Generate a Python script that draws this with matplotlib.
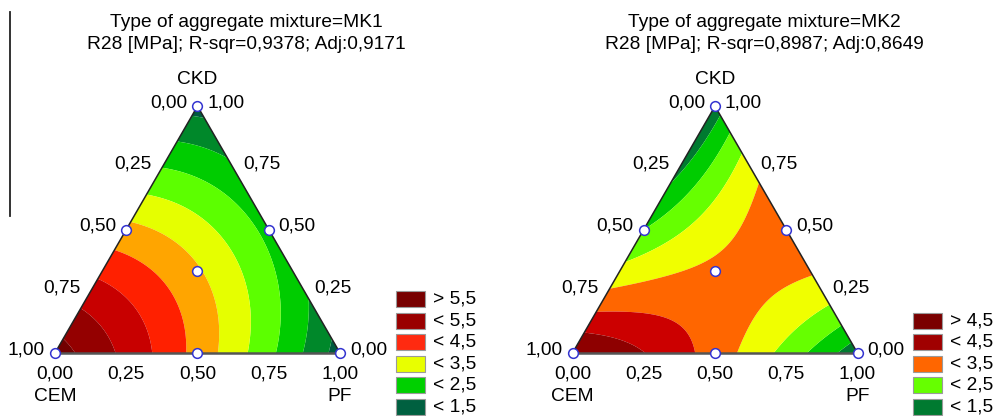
import numpy as np
import matplotlib
matplotlib.use('Agg')
import matplotlib.pyplot as plt
import matplotlib.tri as mtri
from matplotlib.patches import Rectangle
from matplotlib.lines import Line2D

plt.rcParams['font.family'] = ['Liberation Sans', 'DejaVu Sans']

# ---------------- data ----------------
components = ['CEM', 'PF', 'CKD']
tick_values = [0.0, 0.25, 0.5, 0.75, 1.0]
tick_labels = ['0,00', '0,25', '0,50', '0,75', '1,00']

titles_mk1 = ['Type of aggregate mixture=MK1', 'R28 [MPa]; R-sqr=0,9378; Adj:0,9171']
titles_mk2 = ['Type of aggregate mixture=MK2', 'R28 [MPa]; R-sqr=0,8987; Adj:0,8649']

# Scheffe special-cubic model coefficients (read from the contour map):
# b_CEM, b_PF, b_CKD, b_CEM*PF, b_CEM*CKD, b_PF*CKD, b_CEM*PF*CKD
coef_mk1 = [5.73, 1.27, 1.31, 1.30, 0.47, 4.20, 3.20]
coef_mk2 = [4.54, 1.15, 1.20, 1.71, -3.48, 8.50, 1.30]

levels_mk1 = [1.5, 2.0, 2.5, 3.0, 3.5, 4.0, 4.5, 5.0, 5.5]
colors_mk1 = ['#005a40', '#00882a', '#00cc00', '#5cff00', '#e5ff00',
              '#ffa500', '#ff2000', '#c80000', '#940000', '#720000']
legend_labels_mk1 = ['> 5,5', '< 5,5', '< 4,5', '< 3,5', '< 2,5', '< 1,5']
legend_colors_mk1 = ['#780000', '#9a0000', '#ff2a10', '#e8ff00', '#00d000', '#006040']

levels_mk2 = [1.5, 2.0, 2.5, 3.0, 3.5, 4.0, 4.5]
colors_mk2 = ['#007a30', '#00cc00', '#66ff00', '#f0ff00', '#ff6600',
              '#cc0000', '#8e0000', '#760000']
legend_labels_mk2 = ['> 4,5', '< 4,5', '< 3,5', '< 2,5', '< 1,5']
legend_colors_mk2 = ['#7a0000', '#a00000', '#ff6600', '#66ff00', '#007a30']

# design points (fractions)
design_cem = [1.0, 0.0, 0.0, 0.5, 0.5, 0.0, 1 / 3]
design_pf = [0.0, 1.0, 0.0, 0.5, 0.0, 0.5, 1 / 3]
design_ckd = [0.0, 0.0, 1.0, 0.0, 0.5, 0.5, 1 / 3]

# ---------------- helpers ----------------
H = np.sqrt(3) / 2


def to_xy(cem, pf, ckd):
    cem, pf, ckd = map(np.asarray, (cem, pf, ckd))
    return pf + ckd / 2.0, ckd * H


def model(c, x1, x2, x3):
    return (c[0] * x1 + c[1] * x2 + c[2] * x3 + c[3] * x1 * x2 + c[4] * x1 * x3
            + c[5] * x2 * x3 + c[6] * x1 * x2 * x3)


W, HT = 995, 416
S = 285.0  # pixels per unit
fig = plt.figure(figsize=(W / 100, HT / 100), dpi=100)

FS = 13.8


def panel(ox, titles, coef, levels, colors, leg_labels, leg_colors):
    oy = 353.0
    x0, x1, y0, y1 = -0.15, 1.25, -0.05, 0.95
    ax = fig.add_axes([(ox + x0 * S) / W, (HT - (oy - y0 * S)) / HT,
                       (x1 - x0) * S / W, (y1 - y0) * S / HT])
    ax.set_xlim(x0, x1)
    ax.set_ylim(y0, y1)
    ax.axis('off')

    # lattice
    n = 160
    pts = []
    for i in range(n + 1):
        for j in range(n + 1 - i):
            k = n - i - j
            pts.append((i / n, j / n, k / n))
    pts = np.array(pts)
    cem, pf, ckd = pts[:, 0], pts[:, 1], pts[:, 2]
    xs, ys = to_xy(cem, pf, ckd)
    z = model(coef, cem, pf, ckd)
    tri = mtri.Triangulation(xs, ys)
    ax.tricontourf(tri, z, levels=[-50] + list(levels) + [50], colors=colors,
                   antialiased=True)

    # outline
    vx, vy = to_xy([1, 0, 0], [0, 1, 0], [0, 0, 1])
    ax.plot([vx[0], vx[2], vx[1]], [vy[0], vy[2], vy[1]], color='#222222',
            lw=1.1, zorder=4, clip_on=False)
    ax.plot([vx[0], vx[1]], [vy[0], vy[1]], color='#555555', lw=1.8,
            zorder=4, clip_on=False)

    # design points
    dx, dy = to_xy(design_cem, design_pf, design_ckd)
    ax.plot(dx, dy, 'o', ms=7, mfc='white', mec='#3434d0', mew=1.1,
            clip_on=False, zorder=6, linestyle='none')

    # tick labels
    for v, lab in zip(tick_values, tick_labels):
        # left edge: CEM fraction
        ex, ey = to_xy(v, 0.0, 1 - v)
        ax.text(ex - 0.035, ey + 0.012, lab, ha='right', va='center', fontsize=FS)
        # right edge: CKD fraction
        ex, ey = to_xy(0.0, 1 - v, v)
        ax.text(ex + 0.035, ey + 0.012, lab, ha='left', va='center', fontsize=FS)
        # bottom edge: PF fraction
        ex, ey = to_xy(1 - v, v, 0.0)
        ax.text(ex, ey - 0.074, lab, ha='center', va='center', fontsize=FS)

    ax.text(0.0, -0.154, components[0], ha='center', va='center', fontsize=FS)
    ax.text(1.0, -0.154, components[1], ha='center', va='center', fontsize=FS)
    ax.text(0.5, 0.958, components[2], ha='center', va='center', fontsize=FS)

    ax.text(0.672, 1.161, titles[0], ha='center', va='center', fontsize=FS)
    ax.text(0.672, 1.081, titles[1], ha='center', va='center', fontsize=FS)

    # legend
    nrow = len(leg_labels)
    bw, bh = 29 / S, 16 / S
    for i, (lab, col) in enumerate(zip(leg_labels, leg_colors)):
        yc = (oy - (407 - (nrow - 1 - i) * 21.6)) / S
        ax.add_patch(Rectangle((1.195, yc - bh / 2), bw, bh, facecolor=col,
                               edgecolor='#9a9a9a', lw=0.8, clip_on=False))
        ax.text(1.325, yc, lab, ha='left', va='center', fontsize=FS)
    return ax


panel(55.0, titles_mk1, coef_mk1, levels_mk1, colors_mk1,
      legend_labels_mk1, legend_colors_mk1)
panel(572.5, titles_mk2, coef_mk2, levels_mk2, colors_mk2,
      legend_labels_mk2, legend_colors_mk2)

fig.add_artist(Line2D([10.5 / W, 10.5 / W], [1 - 12 / HT, 1 - 216 / HT],
                      color='#222222', lw=1.3))

fig.savefig('out.png', dpi=100)
